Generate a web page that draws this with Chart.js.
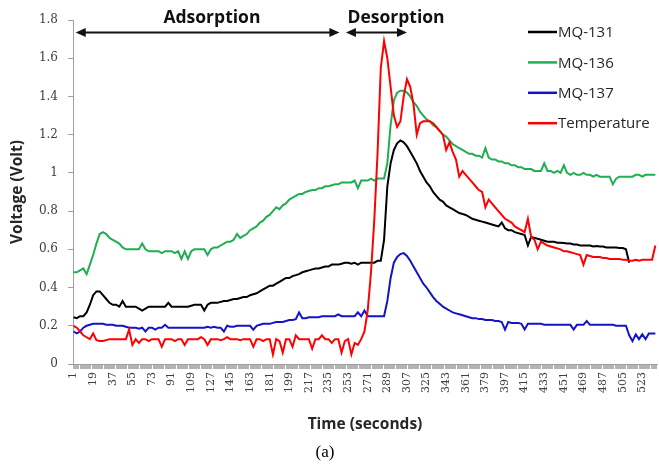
<!DOCTYPE html>
<html><head><meta charset="utf-8">
<script src="https://cdn.jsdelivr.net/npm/chart.js@4.4.0/dist/chart.umd.min.js"></script>
<style>html,body{margin:0;padding:0;background:#fff;}#wrap{width:659px;height:470px;position:relative;}</style>
</head><body><div id="wrap"><canvas id="c" width="659" height="470"></canvas></div>
<script>
const times = [
1,4,7,10,13,16,19,22,25,28,31,34,37,40,43,46,49,52,55,58,
61,64,67,70,73,76,79,82,85,88,91,94,97,100,103,106,109,112,115,118,
121,124,127,130,133,136,139,142,145,148,151,154,157,160,163,166,169,172,175,178,
181,184,187,190,193,196,199,202,205,208,211,214,217,220,223,226,229,232,235,238,
241,244,247,250,253,256,259,262,265,268,271,274,277,280,283,286,289,292,295,298,
301,304,307,310,313,316,319,322,325,328,331,334,337,340,343,346,349,352,355,358,
361,364,367,370,373,376,379,382,385,388,391,394,397,400,403,406,409,412,415,418,
421,424,427,430,433,436,439,442,445,448,451,454,457,460,463,466,469,472,475,478,
481,484,487,490,493,496,499,502,505,508,511,514,517,520,523,526,529,532,535];

const mq131 = [
0.245,0.24,0.25,0.25,0.27,0.31,0.36,0.38,0.38,0.36,0.34,0.32,0.31,0.31,0.30,0.33,0.30,0.30,0.30,0.30,
0.29,0.28,0.29,0.30,0.30,0.30,0.30,0.30,0.30,0.32,0.30,0.30,0.30,0.30,0.30,0.30,0.305,0.31,0.31,0.31,
0.28,0.31,0.32,0.32,0.32,0.325,0.33,0.33,0.335,0.34,0.34,0.345,0.35,0.35,0.36,0.365,0.37,0.38,0.39,0.40,
0.41,0.41,0.42,0.43,0.44,0.45,0.45,0.46,0.465,0.47,0.48,0.485,0.49,0.495,0.50,0.50,0.505,0.51,0.51,0.52,
0.52,0.52,0.525,0.53,0.53,0.525,0.53,0.52,0.53,0.53,0.53,0.53,0.53,0.54,0.54,0.65,0.93,1.05,1.12,1.155,
1.17,1.16,1.14,1.11,1.08,1.05,1.01,0.98,0.95,0.93,0.90,0.88,0.86,0.85,0.83,0.82,0.81,0.80,0.79,0.785,
0.78,0.77,0.76,0.755,0.75,0.745,0.74,0.735,0.73,0.725,0.72,0.74,0.71,0.70,0.70,0.69,0.685,0.68,0.675,0.62,
0.665,0.66,0.655,0.65,0.645,0.64,0.64,0.64,0.635,0.635,0.633,0.63,0.63,0.625,0.625,0.62,0.62,0.62,0.62,0.615,
0.617,0.615,0.615,0.61,0.61,0.61,0.61,0.607,0.607,0.60,0.53,null,null,null,null,null,null,null,null];

const mq136 = [
0.48,0.48,0.49,0.50,0.47,0.52,0.57,0.63,0.68,0.69,0.68,0.66,0.65,0.64,0.63,0.61,0.60,0.60,0.60,0.60,
0.60,0.63,0.60,0.59,0.59,0.59,0.59,0.58,0.59,0.59,0.59,0.58,0.59,0.55,0.59,0.55,0.59,0.60,0.60,0.60,
0.60,0.57,0.60,0.61,0.61,0.62,0.63,0.64,0.64,0.65,0.68,0.66,0.67,0.68,0.70,0.71,0.72,0.74,0.75,0.77,
0.78,0.80,0.82,0.81,0.83,0.84,0.86,0.87,0.88,0.89,0.89,0.90,0.905,0.91,0.91,0.92,0.92,0.93,0.93,0.935,
0.94,0.94,0.95,0.95,0.95,0.95,0.96,0.92,0.96,0.96,0.96,0.97,0.96,0.97,0.97,0.97,1.05,1.25,1.38,1.42,
1.43,1.43,1.42,1.40,1.37,1.35,1.32,1.30,1.28,1.27,1.25,1.24,1.22,1.20,1.19,1.17,1.15,1.14,1.13,1.12,
1.11,1.10,1.10,1.09,1.09,1.08,1.13,1.08,1.07,1.07,1.06,1.06,1.05,1.05,1.04,1.04,1.03,1.03,1.02,1.02,
1.02,1.01,1.01,1.01,1.05,1.01,1.01,1.00,1.01,1.00,1.04,1.00,0.99,1.00,0.99,0.99,1.00,0.99,0.99,0.98,
0.99,0.98,0.98,0.98,0.98,0.94,0.97,0.98,0.98,0.98,0.98,0.98,0.99,0.99,0.98,0.99,0.99,0.99,0.99];

const mq137 = [
0.17,0.16,0.17,0.19,0.20,0.205,0.21,0.21,0.21,0.21,0.205,0.205,0.205,0.20,0.20,0.20,0.195,0.19,0.19,0.19,
0.185,0.19,0.17,0.19,0.19,0.18,0.19,0.19,0.205,0.19,0.19,0.19,0.19,0.19,0.19,0.19,0.19,0.19,0.19,0.19,
0.19,0.195,0.19,0.195,0.19,0.19,0.17,0.20,0.195,0.195,0.20,0.20,0.20,0.20,0.20,0.18,0.20,0.205,0.21,0.21,
0.21,0.215,0.22,0.22,0.22,0.225,0.23,0.23,0.235,0.27,0.24,0.24,0.245,0.245,0.245,0.245,0.25,0.25,0.25,0.25,
0.25,0.26,0.25,0.25,0.25,0.25,0.25,0.27,0.25,0.28,0.25,0.25,0.25,0.25,0.25,0.25,0.33,0.45,0.53,0.56,
0.575,0.58,0.565,0.54,0.51,0.48,0.45,0.42,0.40,0.375,0.35,0.33,0.315,0.30,0.29,0.28,0.27,0.265,0.26,0.255,
0.25,0.245,0.24,0.24,0.235,0.235,0.23,0.23,0.23,0.225,0.225,0.22,0.18,0.22,0.215,0.215,0.215,0.21,0.18,0.21,
0.21,0.21,0.21,0.21,0.205,0.205,0.205,0.205,0.205,0.205,0.205,0.205,0.205,0.18,0.205,0.205,0.205,0.225,0.205,0.205,
0.205,0.205,0.205,0.205,0.205,0.205,0.20,0.20,0.20,0.20,0.15,0.12,0.155,0.13,0.155,0.13,0.16,0.16,0.16];

const temperature = [
0.20,0.19,0.17,0.15,0.14,0.13,0.16,0.125,0.12,0.12,0.125,0.13,0.13,0.13,0.13,0.13,0.13,0.18,0.10,0.13,
0.11,0.13,0.13,0.12,0.13,0.13,0.13,0.09,0.13,0.13,0.13,0.12,0.13,0.13,0.10,0.13,0.13,0.13,0.13,0.14,
0.13,0.10,0.13,0.13,0.13,0.125,0.13,0.14,0.13,0.13,0.13,0.125,0.13,0.13,0.13,0.09,0.13,0.13,0.12,0.13,
0.13,0.05,0.13,0.12,0.06,0.13,0.13,0.09,0.15,0.13,0.13,0.13,0.13,0.08,0.13,0.13,0.15,0.13,0.13,0.11,
0.13,0.13,0.06,0.12,0.13,0.05,0.11,0.10,0.13,0.17,0.28,0.48,0.75,1.10,1.55,1.69,1.60,1.45,1.30,1.24,
1.27,1.40,1.49,1.45,1.36,1.20,1.26,1.27,1.27,1.27,1.26,1.24,1.22,1.20,1.12,1.16,1.11,1.07,0.98,1.01,
0.99,0.97,0.95,0.93,0.91,0.90,0.82,0.86,0.84,0.82,0.80,0.78,0.76,0.75,0.74,0.72,0.71,0.70,0.69,0.76,
0.665,0.65,0.60,0.64,0.63,0.62,0.615,0.61,0.605,0.60,0.59,0.59,0.585,0.58,0.575,0.57,0.52,0.57,0.565,0.56,
0.56,0.56,0.555,0.555,0.55,0.55,0.55,0.55,0.545,0.545,0.54,0.54,0.545,0.54,0.545,0.545,0.545,0.545,0.62];

const seriesNames = ['MQ-131', 'MQ-136', 'MQ-137', 'Temperature'];
const seriesColors = ['#000000', '#1fae50', '#1414c4', '#ff0000'];
const xTickLabels = ['1','19','37','55','73','91','109','127','145','163','181','199','217','235','253',
  '271','289','307','325','343','361','379','397','415','433','451','469','487','505','523'];
const yTickValues = [0, 0.2, 0.4, 0.6, 0.8, 1, 1.2, 1.4, 1.6, 1.8];
const phases = [
  {name: 'Adsorption', from: 3, to: 245, labelAt: 128},
  {name: 'Desorption', from: 251, to: 307, labelAt: 297}
];
const phaseArrowLevel = 1.735;
const xTitle = 'Time (seconds)';
const yTitle = 'Voltage (Volt)';
const caption = '(a)';
const lastSecond = 536;

const seriesValues = [mq131, mq136, mq137, temperature];
const labelSet = new Set(xTickLabels);
const allSeconds = [];
for (let s = 1; s <= lastSecond; s++) allSeconds.push(s);

const datasets = seriesValues.map((vals, k) => ({
  label: seriesNames[k],
  data: times.map((t, i) => ({x: t, y: vals[i]})).filter(p => p.y !== null),
  borderColor: seriesColors[k],
  backgroundColor: seriesColors[k],
  borderWidth: 2,
  pointRadius: 0,
  tension: 0,
  fill: false,
  order: 4 - k
}));

function arrowHead(ctx, x, y, dir) {
  ctx.beginPath();
  ctx.moveTo(x, y);
  ctx.lineTo(x - dir * 10, y - 4.5);
  ctx.lineTo(x - dir * 10, y + 4.5);
  ctx.closePath();
  ctx.fill();
}

const overlay = {
  id: 'overlay',
  afterDraw(chart) {
    const {ctx, scales: {x, y}} = chart;
    ctx.save();
    const ay = y.getPixelForValue(phaseArrowLevel);
    ctx.strokeStyle = '#111'; ctx.fillStyle = '#111'; ctx.lineWidth = 2;
    phases.forEach(p => {
      const x1 = x.getPixelForValue(p.from), x2 = x.getPixelForValue(p.to);
      ctx.beginPath(); ctx.moveTo(x1 + 4, ay); ctx.lineTo(x2 - 4, ay); ctx.stroke();
      arrowHead(ctx, x1, ay, -1);
      arrowHead(ctx, x2, ay, 1);
      ctx.font = 'bold 17.5px "Open Sans"';
      ctx.textAlign = 'center'; ctx.textBaseline = 'middle';
      ctx.fillText(p.name, x.getPixelForValue(p.labelAt), ay - 14);
    });
    ctx.font = '15px "Open Sans"';
    ctx.textAlign = 'left'; ctx.textBaseline = 'middle';
    seriesNames.forEach((n, k) => {
      const ly = 32 + k * 30.4;
      ctx.strokeStyle = seriesColors[k]; ctx.lineWidth = 2.5;
      ctx.beginPath(); ctx.moveTo(528, ly); ctx.lineTo(557, ly); ctx.stroke();
      ctx.fillStyle = '#262626';
      ctx.fillText(n, 558, ly + 1);
    });
    ctx.fillStyle = '#000';
    ctx.font = '17px "Liberation Serif"';
    ctx.textAlign = 'center';
    ctx.fillText(caption, 325, 453);
    ctx.restore();
  }
};

new Chart(document.getElementById('c'), {
  type: 'line',
  data: {datasets},
  options: {
    responsive: false,
    animation: false,
    layout: {padding: {left: 0, right: 2, top: 20, bottom: 32}},
    plugins: {legend: {display: false}, tooltip: {enabled: false}},
    scales: {
      x: {
        type: 'linear', min: 0.5, max: lastSecond + 0.5,
        afterBuildTicks: s => { s.ticks = allSeconds.map(v => ({value: v})); },
        afterFit: s => { s.height = 74; s.paddingLeft = 0; s.paddingRight = 0; },
        ticks: {
          autoSkip: false, minRotation: 90, maxRotation: 90, padding: 3,
          font: {family: 'DejaVu Serif', size: 11}, color: '#404040',
          callback: v => labelSet.has(String(v)) ? String(v) : ''
        },
        grid: {drawOnChartArea: false, drawTicks: true, tickLength: 5, color: '#b4b4b4', lineWidth: 1},
        border: {color: '#a0a0a0', width: 1},
        title: {display: true, text: xTitle, color: '#262626',
          font: {family: 'Open Sans', size: 15.5, weight: 'bold'}, padding: {top: 0, bottom: 4}}
      },
      y: {
        min: 0, max: 1.8,
        afterBuildTicks: s => { s.ticks = yTickValues.map(v => ({value: v})); },
        afterFit: s => { s.width = 73; s.paddingTop = 0; s.paddingBottom = 0; },
        ticks: {padding: 10, font: {family: 'DejaVu Serif', size: 12}, color: '#404040',
          callback: v => String(v)},
        grid: {drawOnChartArea: false, drawTicks: true, tickLength: 5, color: '#a0a0a0'},
        border: {color: '#a0a0a0', width: 1},
        title: {display: true, text: yTitle, color: '#262626',
          font: {family: 'Open Sans', size: 15.5, weight: 'bold'}, padding: {top: 8, bottom: 0}}
      }
    }
  },
  plugins: [overlay]
});
</script></body></html>
